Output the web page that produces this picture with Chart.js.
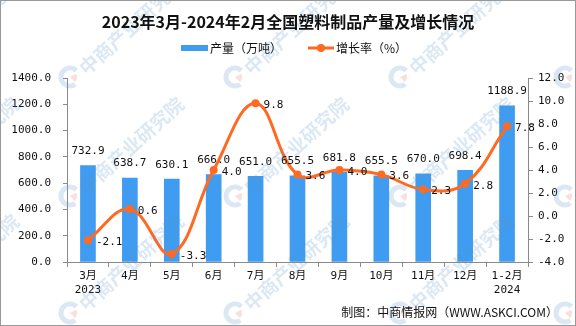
<!DOCTYPE html>
<html><head><meta charset="utf-8">
<script src="https://cdn.jsdelivr.net/npm/chart.js@4"></script>
<style>html,body{margin:0;padding:0;background:#fff}#wrap{width:576px;height:326px;position:relative}canvas{display:block}</style>
</head><body><div id="wrap"><canvas id="c" width="576" height="326"></canvas></div>
<script>
const titleText = "2023年3月-2024年2月全国塑料制品产量及增长情况";
const sourceText = "制图：中商情报网（WWW.ASKCI.COM）";
const watermarkText = "中商产业研究院";
const seriesNames = ["产量（万吨）", "增长率（%）"];
const categories = [["3月","2023"],"4月","5月","6月","7月","8月","9月","10月","11月","12月",["1-2月","2024"]];
const production = [732.9, 638.7, 630.1, 666.0, 651.0, 655.5, 681.8, 655.5, 670.0, 698.4, 1188.9];
const growth = [-2.1, 0.6, -3.3, 4.0, 9.8, 3.6, 4.0, 3.6, 2.3, 2.8, 7.8];
const leftTicks = [0, 200, 400, 600, 800, 1000, 1200, 1400];
const rightTicks = [-4, -2, 0, 2, 4, 6, 8, 10, 12];

const BLUE = '#3F9CF0';
const ORANGE = '#FF6A22';
const AXIS = '#8a8a8a';
const NUMFONT = "'DejaVu Sans Mono','Noto Sans CJK SC',monospace";
const CJK = "'Noto Sans CJK SC',sans-serif";

function drawWatermarks(ctx) {
  ctx.save();
  const cols = [-95, 70, 235, 400, 565];
  const rows = [77, 196, 313];
  for (const cx of cols) {
    for (const cy of rows) {
      // logo
      ctx.lineWidth = 5;
      ctx.strokeStyle = 'rgba(90,150,205,0.22)';
      ctx.beginPath(); ctx.arc(cx, cy, 9, Math.PI * 0.3, Math.PI * 1.75); ctx.stroke();
      ctx.fillStyle = 'rgba(235,110,90,0.22)';
      ctx.beginPath(); ctx.moveTo(cx, cy); ctx.arc(cx, cy, 7, Math.PI * 1.85, Math.PI * 0.25); ctx.closePath(); ctx.fill();
      // text
      ctx.save();
      ctx.translate(cx + 12, cy - 6);
      ctx.rotate(-42 * Math.PI / 180);
      ctx.font = "bold 19px " + CJK;
      ctx.fillStyle = 'rgba(90,150,205,0.22)';
      ctx.textAlign = 'left';
      ctx.textBaseline = 'middle';
      ctx.fillText(watermarkText, 0, 0);
      ctx.restore();
    }
  }
  ctx.restore();
}

const decor = {
  id: 'decor',
  beforeDraw(chart) {
    const ctx = chart.ctx;
    ctx.save();
    ctx.fillStyle = '#fff';
    ctx.fillRect(0, 0, chart.width, chart.height);
    ctx.restore();
  },
  afterDraw(chart) {
    const ctx = chart.ctx;
    drawWatermarks(ctx);
    ctx.save();
    // title
    ctx.fillStyle = '#111';
    ctx.font = "bold 16px " + CJK;
    ctx.textAlign = 'center';
    ctx.textBaseline = 'middle';
    ctx.fillText(titleText, 288, 22);
    // legend
    ctx.fillStyle = BLUE;
    ctx.fillRect(181, 45, 27, 6);
    ctx.fillStyle = '#111';
    ctx.font = "12px " + CJK;
    ctx.textAlign = 'left';
    ctx.fillText(seriesNames[0], 210, 48);
    ctx.strokeStyle = ORANGE;
    ctx.lineWidth = 3;
    ctx.beginPath(); ctx.moveTo(308, 48); ctx.lineTo(334, 48); ctx.stroke();
    ctx.fillStyle = ORANGE;
    ctx.beginPath(); ctx.arc(321, 48, 4, 0, Math.PI * 2); ctx.fill();
    ctx.fillStyle = '#111';
    ctx.fillText(seriesNames[1], 336, 48);
    // source
    ctx.textAlign = 'right';
    ctx.fillText(sourceText, 558, 312);
    // border
    ctx.strokeStyle = '#999';
    ctx.lineWidth = 1;
    ctx.strokeRect(0.5, 0.5, chart.width - 1, chart.height - 1);
    ctx.restore();
  }
};

const valueLabels = {
  id: 'valueLabels',
  afterDatasetsDraw(chart) {
    const ctx = chart.ctx;
    ctx.save();
    ctx.font = "11px " + NUMFONT;
    ctx.fillStyle = '#111';
    const barMeta = chart.getDatasetMeta(1);
    ctx.textAlign = 'center';
    ctx.textBaseline = 'bottom';
    barMeta.data.forEach((el, i) => {
      ctx.fillText(production[i].toFixed(1), el.x, el.y - 9);
    });
    const lineMeta = chart.getDatasetMeta(0);
    ctx.textAlign = 'left';
    ctx.textBaseline = 'middle';
    lineMeta.data.forEach((el, i) => {
      ctx.fillText(growth[i].toFixed(1), el.x + 8, el.y + 2);
    });
    ctx.restore();
  }
};

new Chart(document.getElementById('c'), {
  data: {
    labels: categories,
    datasets: [
      {
        type: 'line', label: seriesNames[1], data: growth, yAxisID: 'y1', order: 0,
        borderColor: ORANGE, backgroundColor: ORANGE, borderWidth: 3,
        pointRadius: 4, pointBackgroundColor: ORANGE, pointBorderWidth: 0,
        tension: 0.4, cubicInterpolationMode: 'default'
      },
      {
        type: 'bar', label: seriesNames[0], data: production, yAxisID: 'y', order: 1,
        backgroundColor: BLUE, barThickness: 15
      }
    ]
  },
  options: {
    responsive: false,
    animation: false,
    devicePixelRatio: 1,
    layout: { padding: { top: 78, left: 0, right: 0, bottom: 0 } },
    plugins: { legend: { display: false }, title: { display: false }, tooltip: { enabled: false } },
    scales: {
      x: {
        offset: true,
        grid: { display: true, drawOnChartArea: false, drawTicks: true, tickLength: 5, color: AXIS, offset: true },
        border: { display: true, color: AXIS },
        ticks: { color: '#111', font: { family: NUMFONT, size: 11, lineHeight: 1.3 }, padding: 2, maxRotation: 0, autoSkip: false },
        afterFit(s) { s.height = 64; }
      },
      y: {
        position: 'left',
        min: leftTicks[0], max: leftTicks[leftTicks.length - 1],
        grid: { display: true, drawOnChartArea: false, tickLength: 4, color: AXIS },
        border: { display: true, color: AXIS },
        ticks: { stepSize: leftTicks[1] - leftTicks[0], color: '#111', font: { family: NUMFONT, size: 11 }, padding: 12,
          callback: v => Number(v).toFixed(1) },
        afterFit(s) { s.width = 67; }
      },
      y1: {
        position: 'right',
        min: rightTicks[0], max: rightTicks[rightTicks.length - 1],
        grid: { display: true, drawOnChartArea: false, tickLength: 5, color: AXIS },
        border: { display: true, color: AXIS },
        ticks: { stepSize: rightTicks[1] - rightTicks[0], color: '#111', font: { family: NUMFONT, size: 11 }, padding: 5,
          callback: v => Number(v).toFixed(1) },
        afterFit(s) { s.width = 48; }
      }
    }
  },
  plugins: [decor, valueLabels]
});
</script></body></html>
